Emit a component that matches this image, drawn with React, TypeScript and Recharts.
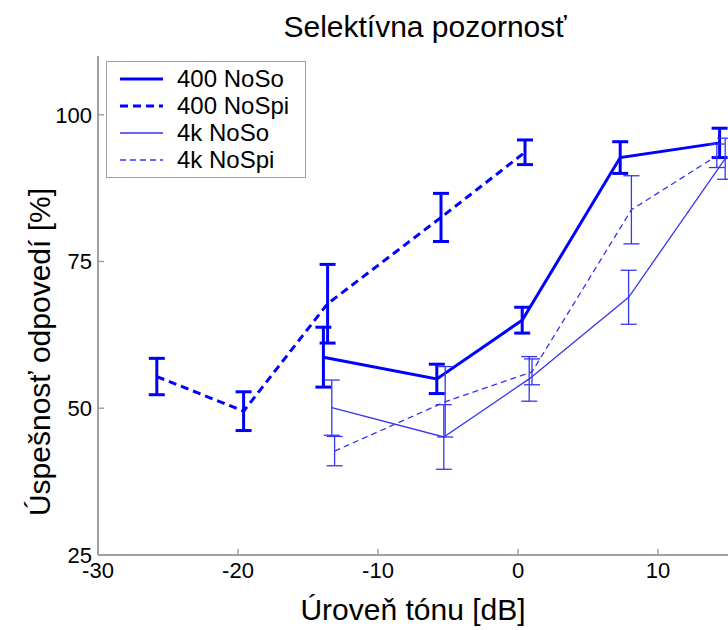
import React from 'react'
import { LineChart, Line, XAxis, YAxis, ErrorBar } from 'recharts'

// x = úroveň tónu [dB], y = úspešnosť [%], err = +/- odchýlka
const noSo400X = [-13.9, -5.8, 0.3, 7.3, 14.4]
const noSo400Y = [58.7, 55.0, 65.0, 92.7, 95.2]
const noSo400Err = [5.1, 2.5, 2.2, 2.7, 2.5]

const noSpi400X = [-25.8, -19.6, -13.6, -5.5, 0.5]
const noSpi400Y = [55.4, 49.5, 67.8, 82.5, 93.6]
const noSpi400Err = [3.1, 3.3, 6.7, 4.1, 2.1]

const noSo4kX = [-13.3, -5.3, 0.8, 7.9, 14.8]
const noSo4kY = [50.1, 45.1, 55.0, 68.9, 92.5]
const noSo4kErr = [4.7, 5.5, 3.8, 4.6, 3.5]

const noSpi4kX = [-13.1, -5.2, 1.0, 8.1, 14.2]
const noSpi4kY = [42.7, 51.1, 56.2, 83.8, 93.0]
const noSpi4kErr = [2.5, 6.0, 2.2, 5.8, 2.0]

const xTicks = [-30, -20, -10, 0, 10]
const yTicks = [25, 50, 75, 100]

const toRows = (xs: number[], ys: number[], es: number[]) =>
  xs.map((x, i) => ({ x, y: ys[i], err: es[i] }))

const BLUE = '#0000ff'
const THIN = '#3535f5'
const AXIS = '#a0a0a0'
const FONT = '"Liberation Sans", Arial, sans-serif'

const series = [
  { name: '400 NoSo', data: toRows(noSo400X, noSo400Y, noSo400Err), color: BLUE, width: 3, dash: undefined },
  { name: '400 NoSpi', data: toRows(noSpi400X, noSpi400Y, noSpi400Err), color: BLUE, width: 3, dash: '8 5' },
  { name: '4k NoSo', data: toRows(noSo4kX, noSo4kY, noSo4kErr), color: THIN, width: 1.3, dash: undefined },
  { name: '4k NoSpi', data: toRows(noSpi4kX, noSpi4kY, noSpi4kErr), color: THIN, width: 1.3, dash: '6 4' },
]

const X_MARGIN = 7
const Y_MARGIN = 6

const XTick = (props: any) => {
  const { x, y, payload } = props
  const axisY = y - X_MARGIN
  return (
    <g>
      <line x1={x} x2={x} y1={axisY} y2={axisY - 6} stroke={AXIS} strokeWidth={1.5} />
      <text x={x} y={y} dy="0.71em" textAnchor="middle" fontSize={22} fill="#000" fontFamily={FONT}>
        {payload.value}
      </text>
    </g>
  )
}

const YTick = (props: any) => {
  const { x, y, payload } = props
  const axisX = x + Y_MARGIN
  return (
    <g>
      <line x1={axisX} x2={axisX + 6} y1={y} y2={y} stroke={AXIS} strokeWidth={1.5} />
      <text x={x} y={y} dy="0.355em" textAnchor="end" fontSize={22} fill="#000" fontFamily={FONT}>
        {payload.value}
      </text>
    </g>
  )
}

const LegendBox = () => (
  <div
    style={{
      position: 'absolute',
      left: 106,
      top: 61,
      border: `1.5px solid ${AXIS}`,
      background: '#fff',
      width: 198,
      padding: '3px 0 4px 0',
      fontFamily: FONT,
      fontSize: 24,
      color: '#000',
    }}
  >
    {series.map((s) => (
      <div key={s.name} style={{ display: 'flex', alignItems: 'center', height: 27 }}>
        <svg width={70} height={27}>
          <line x1={13} x2={56} y1={14} y2={14} stroke={s.color} strokeWidth={s.width} strokeDasharray={s.dash} />
        </svg>
        <span style={{ lineHeight: '27px' }}>{s.name}</span>
      </div>
    ))}
  </div>
)

export default function App() {
  return (
    <div style={{ position: 'absolute', left: 0, top: 0, width: 728, height: 630, background: '#fff', overflow: 'hidden' }}>
      <LineChart width={728} height={630} margin={{ top: 56, right: 0, left: 0, bottom: 0 }}>
        <XAxis
          type="number"
          dataKey="x"
          domain={[-30, 15]}
          ticks={xTicks}
          height={75}
          tickSize={0}
          tickMargin={X_MARGIN}
          tick={<XTick />}
          stroke={AXIS}
          strokeWidth={2}
          allowDataOverflow
        />
        <YAxis
          type="number"
          dataKey="y"
          domain={[25, 110]}
          ticks={yTicks}
          width={98}
          tickSize={0}
          tickMargin={Y_MARGIN}
          tick={<YTick />}
          stroke={AXIS}
          strokeWidth={2}
          allowDataOverflow
        />
        {series.map((s) => (
          <Line
            key={s.name}
            name={s.name}
            data={s.data}
            dataKey="y"
            type="linear"
            stroke={s.color}
            strokeWidth={s.width}
            strokeDasharray={s.dash}
            dot={false}
            activeDot={false}
            isAnimationActive={false}
          >
            <ErrorBar dataKey="err" direction="y" width={8} stroke={s.color} strokeWidth={s.width} />
          </Line>
        ))}
      </LineChart>
      <LegendBox />
      <svg width={728} height={630} style={{ position: 'absolute', left: 0, top: 0, pointerEvents: 'none' }}>
        <text x={425} y={37} textAnchor="middle" fontSize={30} fontFamily={FONT} fill="#000">
          Selektívna pozornosť
        </text>
        <text x={413} y={620} textAnchor="middle" fontSize={30} fontFamily={FONT} fill="#000">
          Úroveň tónu [dB]
        </text>
        <text
          transform="rotate(-90)"
          x={-352}
          y={50}
          textAnchor="middle"
          fontSize={30}
          fontFamily={FONT}
          fill="#000"
        >
          Úspešnosť odpovedí [%]
        </text>
      </svg>
    </div>
  )
}
